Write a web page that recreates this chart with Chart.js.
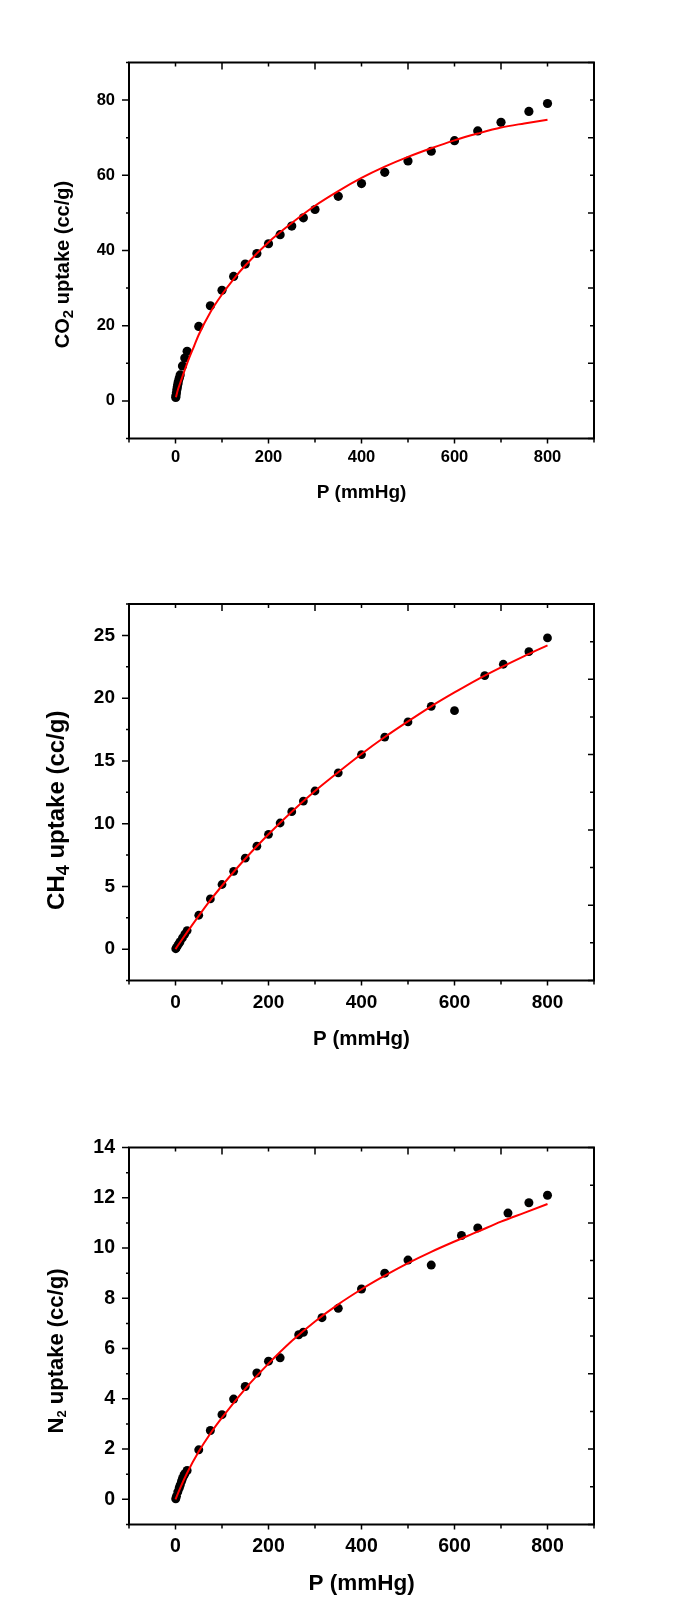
<!DOCTYPE html>
<html lang="en">
<head>
<meta charset="UTF-8" />
<title>Gas uptake isotherms</title>
<style>
  body { margin: 0; background: #fff; }
  .panel { position: absolute; left: 0; width: 674px; }
  canvas { display: block; }
</style>
</head>
<body>

<div class="panel" style="top:0"><canvas id="co2Chart" width="674" height="535"></canvas></div>
<div class="panel" style="top:535px"><canvas id="ch4Chart" width="674" height="535"></canvas></div>
<div class="panel" style="top:1070px"><canvas id="n2Chart" width="674" height="533"></canvas></div>

<script src="https://cdn.jsdelivr.net/npm/chart.js"></script>
<script>
  // pressure axis (shared)
  const pRange = [-100, 900];
  const pTicks = [0, 200, 400, 600, 800];

  // CO2 panel
  const co2Range = [-10, 90];
  const co2Ticks = [0, 20, 40, 60, 80];
  const co2P = [0.5, 1, 2, 3, 4, 5, 6, 8, 10, 15, 20, 25, 50, 75, 100, 125, 150, 175, 200, 225, 250, 275, 300, 350, 400, 450, 500, 550, 600, 650, 700, 760, 800];
  const co2Q = [0.9, 1.4, 2.2, 3.0, 3.7, 4.4, 5.1, 6.0, 6.9, 9.3, 11.4, 13.2, 19.8, 25.3, 29.4, 33.1, 36.4, 39.2, 41.8, 44.2, 46.5, 48.7, 50.9, 54.4, 57.8, 60.8, 63.8, 66.4, 69.2, 71.8, 74.1, 77.0, 79.1];
  const co2FitP = [1, 5, 10, 25, 40, 50, 75, 100, 125, 150, 200, 250, 300, 350, 400, 450, 500, 550, 600, 650, 700, 750, 800];
  const co2FitQ = [1.0, 2.9, 4.7, 10.0, 14.6, 17.6, 23.6, 28.3, 32.4, 36.0, 42.2, 47.3, 51.9, 55.8, 59.3, 62.3, 64.9, 67.2, 69.3, 71.1, 72.7, 73.8, 74.8];
  const co2Title = ['CO', '2', ' uptake (cc/g)'];

  // CH4 panel
  const ch4Range = [-2.5, 27.5];
  const ch4Ticks = [0, 5, 10, 15, 20, 25];
  const ch4P = [0.5, 2, 5, 8, 10, 15, 20, 25, 50, 75, 100, 125, 150, 175, 200, 225, 250, 275, 300, 350, 400, 450, 500, 550, 600, 665, 705, 760, 800];
  const ch4Q = [0.03, 0.12, 0.3, 0.48, 0.6, 0.9, 1.2, 1.48, 2.7, 4.0, 5.15, 6.2, 7.25, 8.2, 9.15, 10.05, 10.95, 11.8, 12.6, 14.05, 15.5, 16.9, 18.1, 19.35, 19.0, 21.8, 22.7, 23.7, 24.8];
  const ch4FitP = [0, 10, 25, 50, 75, 100, 150, 200, 250, 300, 350, 400, 450, 500, 550, 600, 650, 700, 750, 800];
  const ch4FitQ = [0, 0.55, 1.35, 2.65, 3.9, 5.05, 7.2, 9.15, 10.95, 12.6, 14.1, 15.55, 16.9, 18.15, 19.35, 20.45, 21.5, 22.45, 23.35, 24.2];
  const ch4Title = ['CH', '4', ' uptake (cc/g)'];

  // N2 panel
  const n2Range = [-1, 14];
  const n2Ticks = [0, 2, 4, 6, 8, 10, 12, 14];
  const n2P = [0.5, 2, 5, 8, 10, 13, 15, 18, 20, 25, 50, 75, 100, 125, 150, 175, 200, 225, 265, 275, 315, 350, 400, 450, 500, 550, 615, 650, 715, 760, 800];
  const n2Q = [0.02, 0.12, 0.3, 0.45, 0.56, 0.72, 0.83, 0.95, 1.02, 1.15, 1.97, 2.74, 3.37, 3.99, 4.49, 5.03, 5.5, 5.63, 6.55, 6.65, 7.23, 7.6, 8.37, 9.0, 9.52, 9.32, 10.5, 10.8, 11.39, 11.8, 12.1];
  const n2FitP = [0, 10, 25, 50, 75, 100, 150, 200, 250, 300, 350, 400, 450, 500, 550, 600, 650, 700, 750, 800];
  const n2FitQ = [0, 0.45, 1.05, 1.9, 2.62, 3.25, 4.4, 5.4, 6.3, 7.08, 7.76, 8.36, 8.9, 9.4, 9.85, 10.26, 10.65, 11.05, 11.4, 11.75];
  const n2Title = ['N', '2', ' uptake (cc/g)'];

  const FONT = "'Liberation Sans', Arial, sans-serif";

  function isMajor(v, step) {
    const r = v / step;
    return Math.abs(r - Math.round(r)) < 1e-6;
  }

  // Origin-style frame: outward ticks on left/bottom, inward mirrored ticks on top/right,
  // plus the y title with a real subscript
  const frameTicks = {
    id: 'frameTicks',
    afterDraw(chart, args, o) {
      const { ctx, chartArea: a, scales: { x, y } } = chart;
      ctx.save();
      ctx.strokeStyle = '#000';
      ctx.lineWidth = 1.5;
      ctx.beginPath();
      for (let v = x.min; v <= x.max + 1e-6; v += o.xStep / 2) {
        const px = x.getPixelForValue(v);
        ctx.moveTo(px, a.bottom);
        ctx.lineTo(px, a.bottom + (isMajor(v, o.xStep) ? 5 : 4));
      }
      for (let v = y.min; v <= y.max + 1e-6; v += o.yStep / 2) {
        const py = y.getPixelForValue(v);
        ctx.moveTo(a.left, py);
        ctx.lineTo(a.left - (isMajor(v, o.yStep) ? 7 : 3), py);
      }
      for (let k = 0; k <= 10; k++) {
        const px = x.getPixelForValue(x.min + (x.max - x.min) * k / 10);
        ctx.moveTo(px, a.top);
        ctx.lineTo(px, a.top + (k % 2 ? 4 : 7));
        const py = y.getPixelForValue(y.min + (y.max - y.min) * k / 10);
        ctx.moveTo(a.right, py);
        ctx.lineTo(a.right - (k % 2 ? 4 : 6), py);
      }
      ctx.stroke();
      ctx.lineWidth = 2;
      ctx.strokeRect(a.left, a.top, a.right - a.left, a.bottom - a.top);

      // y axis title
      const [pre, sub, post] = o.title;
      const big = 'bold ' + o.titleSize + 'px ' + FONT;
      const small = 'bold ' + Math.round(o.titleSize * o.subScale) + 'px ' + FONT;
      ctx.fillStyle = '#000';
      ctx.textBaseline = 'middle';
      ctx.textAlign = 'left';
      ctx.font = big;
      const w1 = ctx.measureText(pre).width, w3 = ctx.measureText(post).width;
      ctx.font = small;
      const w2 = ctx.measureText(sub).width;
      const total = w1 + w2 + w3;
      ctx.translate(o.titleX, (a.top + a.bottom) / 2 + o.titleShift);
      ctx.rotate(-Math.PI / 2);
      let cx = -total / 2;
      ctx.font = big;
      ctx.fillText(pre, cx, 0);
      cx += w1;
      ctx.font = small;
      ctx.fillText(sub, cx, o.titleSize * 0.28);
      cx += w2;
      ctx.font = big;
      ctx.fillText(post, cx, 0);
      ctx.restore();
    }
  };

  function makeChart(id, d) {
    const canvas = document.getElementById(id);
    const H = canvas.height;
    return new Chart(canvas, {
      type: 'scatter',
      data: {
        datasets: [
          {
            label: 'fit',
            data: d.fitP.map((p, i) => ({ x: p, y: d.fitQ[i] })),
            showLine: true,
            borderColor: '#ff0000',
            borderWidth: 2,
            pointRadius: 0,
            cubicInterpolationMode: 'monotone',
            fill: false
          },
          {
            label: 'data',
            data: d.p.map((p, i) => ({ x: p, y: d.q[i] })),
            showLine: false,
            pointRadius: d.r,
            pointBackgroundColor: '#000',
            pointBorderColor: '#000',
            pointBorderWidth: 0
          }
        ]
      },
      options: {
        responsive: false,
        animation: false,
        devicePixelRatio: 1,
        layout: { padding: { top: d.top, right: 80, bottom: 0, left: 0 } },
        plugins: {
          legend: { display: false },
          tooltip: { enabled: false },
          frameTicks: {
            xStep: 200, yStep: d.yTicks[1] - d.yTicks[0],
            title: d.title, titleSize: d.titleSize, subScale: d.subScale,
            titleX: d.titleX, titleShift: d.titleShift
          }
        },
        scales: {
          x: {
            type: 'linear', min: pRange[0], max: pRange[1],
            afterBuildTicks: s => { s.ticks = pTicks.map(v => ({ value: v })); },
            afterFit: s => { s.height = H - d.bottom; },
            grid: { display: false, drawTicks: false },
            border: { display: false },
            ticks: { color: '#000', padding: d.xPad, maxRotation: 0, autoSkip: false,
                     font: { family: FONT, size: d.tickSize, weight: 'bold' } },
            title: { display: true, text: 'P (mmHg)', color: '#000',
                     padding: { top: 0, bottom: d.xTitlePad },
                     font: { family: FONT, size: d.xTitleSize, weight: 'bold' } }
          },
          y: {
            type: 'linear', min: d.yRange[0], max: d.yRange[1],
            afterBuildTicks: s => { s.ticks = d.yTicks.map(v => ({ value: v })); },
            afterFit: s => { s.width = 129; },
            grid: { display: false, drawTicks: false },
            border: { display: false },
            ticks: { color: '#000', padding: 14, autoSkip: false,
                     font: { family: FONT, size: d.tickSize, weight: 'bold' } }
          }
        }
      },
      plugins: [frameTicks]
    });
  }

  makeChart('co2Chart', {
    p: co2P, q: co2Q, fitP: co2FitP, fitQ: co2FitQ, yRange: co2Range, yTicks: co2Ticks,
    title: co2Title, titleSize: 20, subScale: 0.75, titleX: 63, titleShift: 14,
    top: 62.5, bottom: 438.5, tickSize: 16.5, xPad: 9, xTitleSize: 19, xTitlePad: 31, r: 4.6
  });
  makeChart('ch4Chart', {
    p: ch4P, q: ch4Q, fitP: ch4FitP, fitQ: ch4FitQ, yRange: ch4Range, yTicks: ch4Ticks,
    title: ch4Title, titleSize: 24, subScale: 0.75, titleX: 57, titleShift: 18,
    top: 69, bottom: 445.5, tickSize: 19, xPad: 11, xTitleSize: 20.5, xTitlePad: 18, r: 4.4
  });
  makeChart('n2Chart', {
    p: n2P, q: n2Q, fitP: n2FitP, fitQ: n2FitQ, yRange: n2Range, yTicks: n2Ticks,
    title: n2Title, titleSize: 22, subScale: 0.6, titleX: 56.5, titleShift: 15,
    top: 77.5, bottom: 454.5, tickSize: 19.5, xPad: 10, xTitleSize: 22.5, xTitlePad: 6, r: 4.5
  });
</script>

</body>
</html>
